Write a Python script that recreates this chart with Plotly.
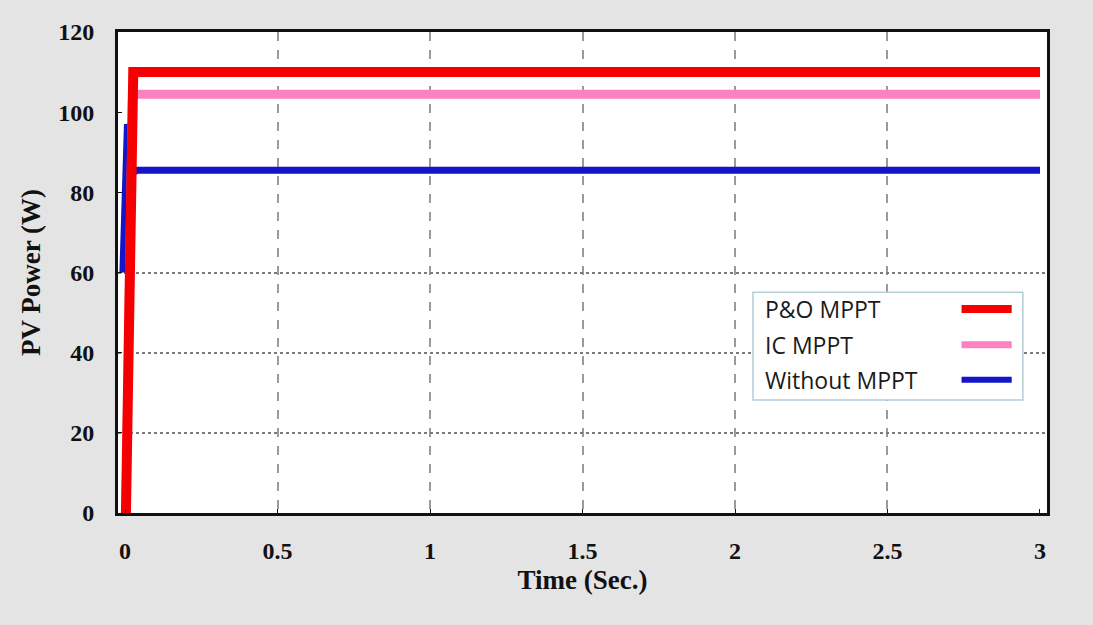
import plotly.graph_objects as go

# Time axis samples (s) and PV power (W) for each controller
t_po = [0.003, 0.008, 0.013, 0.018, 0.022, 0.027, 0.04, 3.0]
p_po = [0.0, 30.0, 65.0, 95.0, 107.0, 110.0, 110.0, 110.0]

t_ic = [0.003, 0.008, 0.013, 0.018, 0.024, 0.034, 3.0]
p_ic = [0.0, 30.0, 65.0, 92.0, 103.0, 104.5, 104.5]

t_wo = [-0.007, -0.003, 0.002, 0.008, 0.013, 0.019, 0.027, 0.04, 3.0]
p_wo = [60.0, 76.0, 91.0, 97.0, 95.0, 88.0, 85.0, 85.5, 85.5]

series_names = ["P&O MPPT", "IC MPPT", "Without MPPT"]
series_colors = ["#f50000", "#fa82c0", "#1414c8"]
series_widths = [10, 9, 7]

x_ticks = [0, 0.5, 1, 1.5, 2, 2.5, 3]
x_tick_text = ["0", "0.5", "1", "1.5", "2", "2.5", "3"]
y_ticks = [0, 20, 40, 60, 80, 100, 120]

fig = go.Figure()
# draw order: blue underneath, then pink, red on top
fig.add_trace(go.Scatter(x=t_wo, y=p_wo, mode="lines", name=series_names[2],
                         line=dict(color=series_colors[2], width=series_widths[2]),
                         showlegend=False))
fig.add_trace(go.Scatter(x=t_ic, y=p_ic, mode="lines", name=series_names[1],
                         line=dict(color=series_colors[1], width=series_widths[1]),
                         showlegend=False))
fig.add_trace(go.Scatter(x=t_po, y=p_po, mode="lines", name=series_names[0],
                         line=dict(color=series_colors[0], width=series_widths[0]),
                         showlegend=False))

tick_font = dict(family="Liberation Serif", size=24, color="#111111")
title_font = dict(family="Liberation Serif", size=27, color="#111111")

fig.update_layout(
    width=1093, height=625,
    margin=dict(l=118, r=46, t=32, b=112),
    paper_bgcolor="#e4e4e4",
    plot_bgcolor="#ffffff",
    xaxis=dict(
        range=[-0.023, 3.023],
        tickvals=x_ticks, ticktext=[f"<b>{s}</b>" for s in x_tick_text],
        tickfont=tick_font,
        ticks="inside", ticklen=4, tickcolor="#111111",
        ticklabelstandoff=14,
        showgrid=False, zeroline=False,
        showline=True, linecolor="#111111", linewidth=3, mirror=True,
        minor=dict(tickvals=[0.5, 1, 1.5, 2, 2.5], showgrid=True,
                   gridcolor="#9a9a9a", griddash="dash", gridwidth=1.5, ticks=""),
        title=dict(text="<b>Time (Sec.)</b>", font=title_font, standoff=8),
    ),
    yaxis=dict(
        range=[0, 120],
        tickvals=y_ticks, ticktext=[f"<b>{v}</b>" for v in y_ticks],
        tickfont=tick_font,
        ticks="inside", ticklen=4, tickcolor="#111111",
        ticklabelstandoff=16,
        showgrid=False, zeroline=False,
        showline=True, linecolor="#111111", linewidth=3, mirror=True,
        minor=dict(tickvals=[20, 40, 60], showgrid=True,
                   gridcolor="#7a7a7a", griddash="dot", gridwidth=2, ticks=""),
        title=dict(text="<b>PV Power (W)</b>", font=title_font, standoff=10),
    ),
)

# legend panel: label on the left, line sample on the right
box = dict(x0=0.6835, x1=0.974, y0=0.235, y1=0.459)
fig.add_shape(type="rect", xref="paper", yref="paper", **box,
              fillcolor="#ffffff", line=dict(color="#b4cdd6", width=1.5), layer="above")
row_y = [0.424, 0.350, 0.277]
for name, color, width, yy in zip(series_names, series_colors, series_widths, row_y):
    fig.add_annotation(x=0.694, y=yy, xref="paper", yref="paper", text=name,
                       showarrow=False, xanchor="left", yanchor="middle",
                       font=dict(family="Open Sans", size=23, color="#1a1a1a"))
    fig.add_shape(type="line", xref="paper", yref="paper",
                  x0=0.908, x1=0.962, y0=yy, y1=yy, layer="above",
                  line=dict(color=color, width=max(width - 2, 6)))

fig.write_html("out.html")
